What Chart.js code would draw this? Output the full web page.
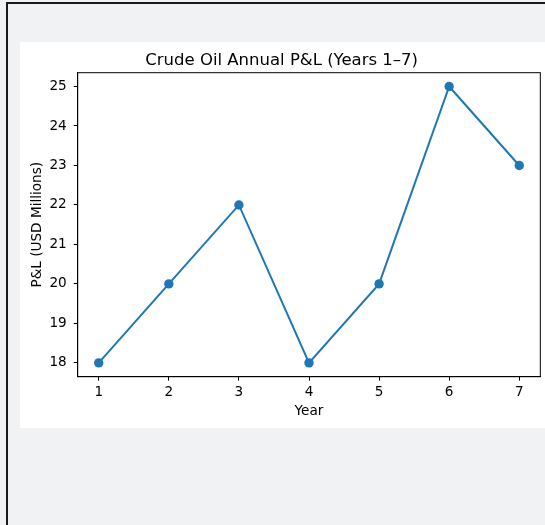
<!DOCTYPE html>
<html>
<head>
<meta charset="utf-8">
<script src="https://cdn.jsdelivr.net/npm/chart.js@4"></script>
<style>
  html, body { margin: 0; padding: 0; }
  body { width: 545px; height: 525px; background: #f1f2f4; position: relative; overflow: hidden; }
  #frame { position: absolute; left: 6px; top: 2px; width: 600px; height: 600px;
           border-left: 2px solid #1a1a1a; border-top: 2px solid #1a1a1a; }
  #panel { position: absolute; left: 20px; top: 42px; width: 525px; height: 386px; background: #fff; }
  canvas { display: block; }
</style>
</head>
<body>
<div id="frame"></div>
<div id="panel"><canvas id="chart" width="525" height="386"></canvas></div>
<script>
// values
const years = [1, 2, 3, 4, 5, 6, 7];
const pnl = [18, 20, 22, 18, 20, 25, 23];
const yTicks = [18, 19, 20, 21, 22, 23, 24, 25];

const FONT = 'DejaVu Sans';
const LINE = '#1f77b4';
const TICK_SIZE = 13.6;

// matplotlib style closed box round the plot
const boxPlugin = {
    id: 'box',
    afterDraw(chart) {
        const { ctx, chartArea: a } = chart;
        ctx.save();
        ctx.strokeStyle = '#000';
        ctx.lineWidth = 1;
        ctx.strokeRect(a.left, a.top, a.right - a.left, a.bottom - a.top);
        ctx.restore();
    }
};

const tickGrid = {
    display: true,
    drawOnChartArea: false,
    drawTicks: true,
    tickLength: 4,
    color: '#000',
    lineWidth: 1
};

new Chart(document.getElementById('chart').getContext('2d'), {
    type: 'line',
    data: {
        datasets: [{
            data: years.map((y, i) => ({ x: y, y: pnl[i] })),
            borderColor: LINE,
            backgroundColor: LINE,
            borderWidth: 2,
            pointRadius: 4.7,
            pointBorderWidth: 0,
            pointBackgroundColor: LINE,
            tension: 0
        }]
    },
    options: {
        responsive: false,
        animation: false,
        devicePixelRatio: 1,
        layout: { padding: { left: 0, right: 1.7, top: 0, bottom: 0 } },
        plugins: {
            legend: { display: false },
            tooltip: { enabled: false },
            title: {
                display: true,
                text: 'Crude Oil Annual P&L (Years 1–7)',
                color: '#000',
                font: { family: FONT, size: 16.5, weight: 'normal' },
                padding: { top: 9.2, bottom: 1.7 }
            }
        },
        scales: {
            x: {
                type: 'linear',
                min: 0.7,
                max: 7.3,
                afterBuildTicks: (scale) => { scale.ticks = years.map(v => ({ value: v })); },
                afterFit: (scale) => { scale.height = 51.3; },
                grid: tickGrid,
                border: { display: true, color: '#000', width: 1 },
                ticks: {
                    color: '#000',
                    padding: 4.1,
                    maxRotation: 0,
                    font: { family: FONT, size: TICK_SIZE }
                },
                title: {
                    display: true,
                    text: 'Year',
                    color: '#000',
                    font: { family: FONT, size: TICK_SIZE },
                    padding: { top: 0, bottom: 8.3 }
                }
            },
            y: {
                type: 'linear',
                min: 17.65,
                max: 25.35,
                afterBuildTicks: (scale) => { scale.ticks = yTicks.map(v => ({ value: v })); },
                afterFit: (scale) => { scale.width = 57.7; },
                grid: tickGrid,
                border: { display: true, color: '#000', width: 1 },
                ticks: {
                    color: '#000',
                    padding: 7,
                    font: { family: FONT, size: TICK_SIZE }
                },
                title: {
                    display: true,
                    text: 'P&L (USD Millions)',
                    color: '#000',
                    font: { family: FONT, size: TICK_SIZE },
                    padding: { top: 9.1, bottom: 0 }
                }
            }
        }
    },
    plugins: [boxPlugin]
});
</script>
</body>
</html>
